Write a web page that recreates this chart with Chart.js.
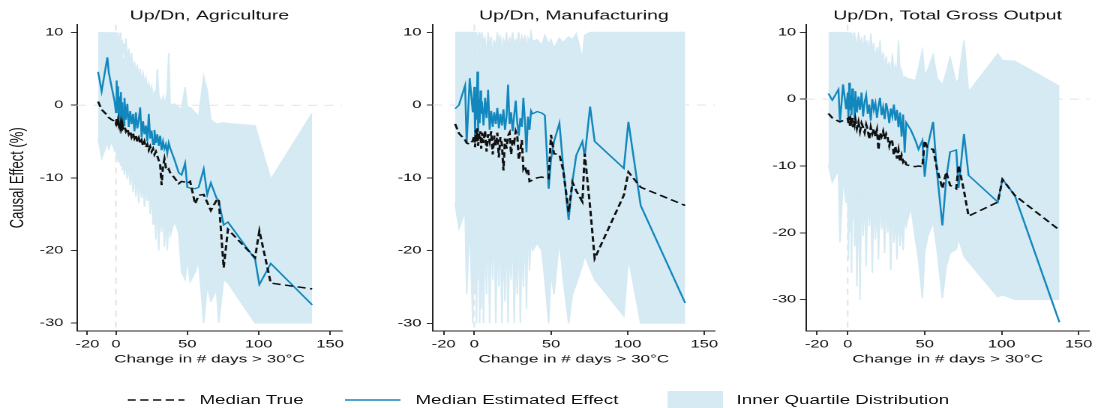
<!DOCTYPE html>
<html>
<head>
<meta charset="utf-8">
<script src="https://cdn.jsdelivr.net/npm/chart.js@4.4.1/dist/chart.umd.min.js"></script>
<style>
  html, body { margin: 0; padding: 0; background: #fff; overflow: hidden; }
  #wrap {
    position: absolute; left: 0; top: 0; width: 732px; height: 408px;
    transform: scaleX(1.5); transform-origin: 0 0;
    font-family: "Liberation Sans", Arial, sans-serif; color: #111;
  }
  #wrap canvas { position: absolute; top: 0; }
  .lg { position: absolute; top: 392px; font-size: 12.5px; line-height: 16px; white-space: nowrap; }
  .lg-mark { position: absolute; }
</style>
</head>
<body>
<div id="wrap">
  <canvas id="ag" width="244" height="370" style="left:0px"></canvas>
  <canvas id="mf" width="244" height="370" style="left:244px"></canvas>
  <canvas id="to" width="244" height="370" style="left:488px"></canvas>

  <svg class="lg-mark" style="left:85px;top:395px" width="40" height="10">
    <line x1="0" y1="5" x2="38" y2="5" stroke="#111" stroke-width="1.3" stroke-dasharray="5.5 3"/>
  </svg>
  <span class="lg" style="left:133px">Median True</span>
  <svg class="lg-mark" style="left:230px;top:395px" width="40" height="10">
    <line x1="0" y1="5" x2="37" y2="5" stroke="#1187bd" stroke-width="1.3"/>
  </svg>
  <span class="lg" style="left:277px">Median Estimated Effect</span>
  <div class="lg-mark" style="left:445px;top:391px;width:37px;height:17px;background:#d5eaf3"></div>
  <span class="lg" style="left:491px">Inner Quartile Distribution</span>
</div>

<script>
/* ===== DATA ===== */
const days = [
  -12.5, -10, -6, -5, -3, -1, 0, 0.5, 1, 1.5,
  2, 2.5, 3, 3.5, 4, 4.5, 5, 6, 7, 8,
  9, 10, 11, 12, 13, 14, 15, 16, 17, 18,
  19, 20, 21, 22, 23, 24, 25, 26, 27, 28,
  29, 30, 31, 32, 33, 34, 35, 36, 37, 38,
  41, 44, 46, 48.5, 50, 52, 55.5, 58, 61.5, 64,
  66.5, 70.5, 72, 75.5, 78.5, 97.5, 100.5, 108.5, 137.5
];

const xTicks = [-20, 0, 50, 100, 150];
const yTicks = [-30, -20, -10, 0, 10];

// Agriculture
const agEst = [
  4.6, 1.9, 6.6, 4.5, 2.5, 0.6, -1.0, 3.4, -0.5, 2.6,
  -1.8, 1.2, -2.4, 1.8, -1.5, 0.4, -2.8, 1.0, -2.0, 0.2,
  -3.0, -0.8, -2.6, -1.2, -3.6, -1.0, -3.2, -2.0, -0.3, -4.4,
  -2.2, -4.0, -2.8, -5.0, -1.2, -4.6, -3.5, -5.4, -3.4, -5.2,
  -4.0, -5.6, -4.2, -6.2, -5.0, -6.0, -5.4, -6.6, -5.2, -5.9,
  -7.5, -9.3, -9.6, -8.0, -11.3, -11.4, -11.5, -11.3, -8.8, -12.3,
  -10.7, -12.8, -13.1, -16.5, -16.1, -21.2, -24.7, -21.8, -27.5
];
const agTrue = [
  0.5, -0.6, -1.4, -1.7, -2.0, -2.2, -2.6, -1.9, -2.8, -2.1,
  -2.7, -2.3, -3.0, -2.4, -3.1, -2.6, -3.2, -2.9, -3.6, -3.2,
  -4.0, -3.6, -4.4, -3.9, -4.6, -4.2, -5.0, -4.5, -5.2, -4.8,
  -5.6, -5.0, -5.8, -5.4, -6.2, -5.7, -6.4, -6.0, -6.8, -6.4,
  -7.0, -7.6, -8.2, -11.0, -8.4, -7.4, -8.6, -9.0, -8.8, -9.3,
  -10.0, -10.8, -10.5, -10.6, -10.8, -10.5, -13.6, -12.4, -12.3, -13.4,
  -14.5, -13.1, -12.9, -22.4, -17.1, -21.0, -17.3, -24.5, -25.3
];
const agHigh = [
  10, 10, 10, 10, 10, 10, 10, 8.5, 10, 7.0,
  9.5, 8.0, 10, 6.8, 9.0, 7.5, 8.5, 6.5, 9.2, 6.0,
  7.8, 5.5, 7.2, 4.8, 6.0, 4.2, 5.6, 3.8, 5.0, 3.2,
  4.4, 3.0, 3.8, 2.2, 3.0, 1.8, 2.6, 1.2, 2.0, 1.0,
  5.0, 1.5, 0.8, 0.4, 1.2, 0.2, 0.8, 2.0, 7.2, 0.0,
  0.2, -0.3, -0.5, 2.5, -0.2, -0.3, -1.0, -1.6, 4.0, 2.0,
  -2.0, -2.6, -2.5, -2.4, -2.5, -2.8, -4.9, -10.2, -1.1
];
const agLow = [
  -4.5, -7.3, -5.2, -6.0, -5.0, -6.2, -5.6, -7.4, -6.0, -7.8,
  -6.4, -8.0, -6.6, -8.4, -7.0, -9.0, -7.4, -9.6, -7.8, -10.2,
  -8.2, -11.0, -8.6, -12.0, -9.0, -12.6, -9.6, -13.5, -10.0, -12.8,
  -10.6, -14.0, -11.0, -13.2, -11.6, -15.0, -12.0, -16.4, -12.6, -18.5,
  -13.4, -20.0, -14.0, -17.5, -14.6, -19.5, -15.2, -20.0, -15.6, -18.0,
  -16.0, -17.5, -23.0, -24.0, -21.0, -24.3, -23.0, -21.5, -30.0, -24.8,
  -27.0, -25.5, -30.0, -24.0, -24.5, -30.0, -30.0, -30.0, -30.0
];

// Manufacturing
const mfEst = [
  -0.5, 0.0, 2.7, -5.3, 3.7, -1.0, 2.5, -4.5, 1.6, -2.0,
  4.6, -3.6, 0.8, -2.5, 2.0, -1.2, 0.5, -2.8, 1.0, -1.8,
  2.1, -3.4, -0.8, -3.0, -1.0, -2.6, -0.4, -3.2, -1.2, -2.8,
  -0.6, -3.4, -1.6, 2.8, -2.6, -1.0, -3.6, -1.4, 0.6, -2.4,
  -4.2, -1.8, -3.0, 1.0, -2.2, -6.5, -1.6, -3.4, -0.8, -1.2,
  -0.9, -1.1, -1.4, -11.5, -7.5, -5.0, -2.5, -8.6, -15.8, -10.5,
  -6.9, -5.0, -7.1, -0.2, -5.0, -8.7, -2.3, -13.8, -27.2
];
const mfTrue = [
  -2.6, -3.9, -4.8, -5.2, -5.4, -4.9, -4.2, -5.8, -3.4, -5.0,
  -3.2, -5.6, -3.8, -4.6, -3.6, -6.0, -3.8, -5.2, -3.5, -6.4,
  -4.0, -5.0, -3.6, -6.8, -4.2, -5.6, -3.8, -7.2, -4.4, -5.4,
  -9.0, -4.6, -6.0, -4.2, -3.8, -6.8, -4.8, -5.2, -3.6, -4.2,
  -7.5, -6.2, -4.8, -8.8, -8.4, -9.2, -8.8, -10.5, -10.4, -10.3,
  -10.0, -9.9, -10.0, -10.1, -4.1, -6.7, -6.8, -9.0, -14.7, -10.6,
  -11.8, -13.3, -6.7, -14.0, -21.1, -12.4, -9.2, -11.3, -13.8
];
const mfHigh = [
  10, 10, 10, 10, 10, 10, 10, 7.6, 10, 8.8,
  9.6, 7.2, 10, 8.2, 9.8, 7.8, 10, 8.6, 9.2, 6.8,
  10, 8.0, 9.4, 6.5, 9.0, 7.8, 10, 8.4, 9.6, 7.2,
  9.0, 8.2, 10, 7.6, 9.2, 8.6, 10, 7.8, 9.0, 8.8,
  10, 8.0, 9.4, 8.4, 9.6, 7.4, 9.2, 8.6, 10, 8.8,
  9.0, 8.2, 9.6, 8.4, 9.0, 7.8, 9.2, 8.6, 9.4, 9.0,
  9.8, 6.4, 9.6, 10, 10, 10, 10, 10, 10
];
const mfLow = [
  -13.5, -17.0, -14.6, -26.0, -16.0, -30.0, -14.0, -26.0, -15.0, -30.0,
  -16.0, -24.0, -14.5, -30.0, -18.0, -28.0, -15.0, -30.0, -16.5, -26.0,
  -15.0, -30.0, -17.0, -24.0, -15.5, -30.0, -18.0, -25.0, -16.0, -30.0,
  -18.5, -27.0, -16.0, -30.0, -19.0, -24.0, -16.5, -30.0, -20.0, -26.0,
  -17.0, -30.0, -19.0, -25.0, -16.0, -28.0, -15.4, -22.8, -18.0, -20.0,
  -19.0, -20.0, -24.0, -30.0, -23.0, -26.0, -18.6, -24.0, -30.0, -26.0,
  -24.6, -22.0, -20.7, -22.5, -24.0, -29.0, -21.0, -30.0, -30.0
];

// Total gross output
const toEst = [
  0.85, -0.15, 1.45, -3.4, 2.2, -1.5, 1.0, -3.0, 2.45, -1.6,
  0.6, -2.4, 1.6, -1.2, 0.2, -3.0, 1.2, -2.0, 0.4, -1.6,
  1.0, -2.6, -0.4, 0.6, -2.2, -0.8, -3.2, 0.0, -1.6, -0.6,
  -2.8, -1.0, 0.2, -2.4, -1.2, -3.0, -0.6, -1.8, -3.6, -1.4,
  -2.6, -0.8, -3.2, -1.6, -4.2, -2.0, -5.6, -2.3, -8.0, -3.5,
  -4.6, -6.2, -7.5, -6.2, -11.6, -7.0, -3.4, -11.0, -18.9, -11.9,
  -7.9, -7.6, -13.3, -5.2, -11.4, -15.4, -12.0, -14.4, -33.4
];
const toTrue = [
  -2.15, -2.8, -3.3, -3.4, -3.2, -3.0, -2.9, -3.6, -2.6, -4.0,
  -3.0, -3.4, -2.8, -4.2, -3.2, -3.8, -3.0, -4.4, -3.4, -4.8,
  -3.6, -4.2, -5.0, -3.8, -4.6, -6.0, -4.2, -5.2, -4.4, -5.6,
  -4.6, -7.6, -5.0, -5.6, -4.8, -6.0, -5.2, -5.8, -7.0, -6.0,
  -6.4, -8.4, -7.0, -8.9, -7.6, -9.4, -8.4, -9.4, -9.0, -9.8,
  -10.0, -10.1, -10.0, -10.1, -6.2, -7.4, -7.5, -10.4, -13.4, -10.9,
  -12.9, -13.4, -9.9, -13.7, -17.5, -15.4, -12.0, -14.4, -19.6
];
const toHigh = [
  10, 10, 10, 10, 10, 10, 10, 8.4, 10, 7.6,
  10, 8.8, 9.6, 7.2, 10, 8.0, 9.4, 7.0, 10, 8.2,
  9.0, 6.8, 9.6, 7.6, 8.8, 6.4, 9.8, 7.0, 8.4, 5.6,
  7.8, 6.2, 8.8, 5.2, 7.0, 4.8, 6.4, 4.2, 5.6, 3.6,
  6.8, 4.0, 5.0, 3.4, 8.8, 3.8, 4.4, 3.0, 3.4, 3.2,
  3.0, 2.8, 4.6, 7.3, 3.6, 4.4, 6.6, 3.2, 2.1, 4.0,
  6.2, 2.4, 3.0, 8.8, 1.1, 6.8, 5.8, 5.7, 1.95
];
const toLow = [
  -9.9, -12.4, -10.6, -21.4, -12.0, -15.5, -11.0, -24.0, -12.5, -20.0,
  -10.8, -26.0, -13.0, -18.0, -11.5, -22.0, -12.0, -28.0, -13.5, -30.0,
  -12.5, -20.5, -14.0, -25.0, -12.8, -19.0, -14.5, -26.0, -13.4, -21.0,
  -15.0, -24.0, -14.0, -19.5, -16.0, -23.0, -14.6, -20.0, -16.5, -25.6,
  -15.0, -21.5, -17.0, -24.0, -16.0, -22.0, -18.0, -22.6, -17.5, -19.0,
  -16.1, -21.0, -24.0, -29.8, -23.0, -20.5, -18.4, -22.5, -29.8, -25.0,
  -23.0, -22.5, -20.9, -23.5, -24.4, -29.6, -29.3, -30.0, -30.0
];

/* ===== STYLE ===== */
const BLUE = "#1187bd";
const BAND = "#d5eaf3";
const INK = "#111";
const FONT = "'Liberation Sans', Arial, sans-serif";
const NARROW = "'Liberation Sans Narrow', 'Liberation Sans', Arial, sans-serif";

const panels = [
  { id: "ag", title: "Up/Dn, Agriculture", est: agEst, tru: agTrue, low: agLow, high: agHigh,
    x: [-27.3, 158.4], y: [-31.1, 11.1], axisW: 51.3, padR: 16, tickPad: 5, yTitle: true },
  { id: "mf", title: "Up/Dn, Manufacturing", est: mfEst, tru: mfTrue, low: mfLow, high: mfHigh,
    x: [-27.1, 157.0], y: [-31.06, 11.06], axisW: 44.5, padR: 11.3, tickPad: 3.5, yTitle: false },
  { id: "to", title: "Up/Dn, Total Gross Output", est: toEst, tru: toTrue, low: toLow, high: toHigh,
    x: [-27.1, 156.9], y: [-34.7, 11.16], axisW: 49.3, padR: 5.8, tickPad: 2.5, yTitle: false },
];

// faint dashed reference lines at x = 0 and y = 0
const zeroLines = {
  id: "zeroLines",
  beforeDatasetsDraw(chart) {
    const { ctx, chartArea: a, scales: { x, y } } = chart;
    const x0 = x.getPixelForValue(0);
    const y0 = y.getPixelForValue(0);
    ctx.save();
    ctx.strokeStyle = "#e3e3e3";
    ctx.lineWidth = 1;
    ctx.setLineDash([6, 5]);
    ctx.beginPath();
    ctx.moveTo(a.left, y0);
    ctx.lineTo(a.right, y0);
    ctx.moveTo(x0, a.top);
    ctx.lineTo(x0, a.bottom);
    ctx.stroke();
    ctx.restore();
  },
};

const pts = arr => days.map((d, i) => ({ x: d, y: arr[i] }));

function drawPanel(p) {
  new Chart(document.getElementById(p.id), {
    type: "line",
    data: {
      datasets: [
        { data: pts(p.high), borderColor: BAND, borderWidth: 1, pointRadius: 0, fill: false, order: 3 },
        { data: pts(p.low), borderColor: BAND, borderWidth: 1, pointRadius: 0, fill: 0,
          backgroundColor: BAND, order: 3 },
        { data: pts(p.est), borderColor: BLUE, borderWidth: 1.25, pointRadius: 0, fill: false, order: 2 },
        { data: pts(p.tru), borderColor: INK, borderWidth: 1.5, borderDash: [5.5, 3], pointRadius: 0,
          fill: false, order: 1 },
      ],
    },
    options: {
      responsive: false,
      devicePixelRatio: 2,
      animation: false,
      events: [],
      layout: { padding: { left: 0, right: p.padR, top: 0, bottom: 0 } },
      plugins: {
        legend: { display: false },
        tooltip: { enabled: false },
        title: {
          display: true,
          text: p.title,
          fullSize: false,
          color: INK,
          font: { family: FONT, size: 13, weight: "normal" },
          padding: { top: 8, bottom: 1 },
        },
      },
      scales: {
        x: {
          type: "linear",
          min: p.x[0],
          max: p.x[1],
          afterBuildTicks: s => { s.ticks = xTicks.map(v => ({ value: v })); },
          afterFit: s => { s.height = 39; },
          grid: { drawOnChartArea: false, tickLength: 4, tickColor: "#333", tickWidth: 1 },
          border: { color: "#222", width: 1 },
          ticks: { color: INK, padding: 3, maxRotation: 0, autoSkip: false,
                   font: { family: FONT, size: 11 } },
          title: { display: true, text: "Change in # days > 30°C", color: INK,
                   font: { family: FONT, size: 11.4 }, padding: { top: 0, bottom: 4 } },
        },
        y: {
          min: p.y[0],
          max: p.y[1],
          afterBuildTicks: s => { s.ticks = yTicks.map(v => ({ value: v })); },
          afterFit: s => { s.width = p.axisW; },
          grid: { drawOnChartArea: false, tickLength: 4, tickColor: "#333", tickWidth: 1 },
          border: { color: "#222", width: 1 },
          ticks: { color: INK, padding: p.tickPad, font: { family: FONT, size: 11 } },
          title: { display: p.yTitle, text: "Causal Effect (%)", color: INK,
                   font: { family: NARROW, size: 13 }, padding: { top: 4, bottom: 0 } },
        },
      },
    },
    plugins: [zeroLines],
  });
}

panels.forEach(drawPanel);
</script>
</body>
</html>
